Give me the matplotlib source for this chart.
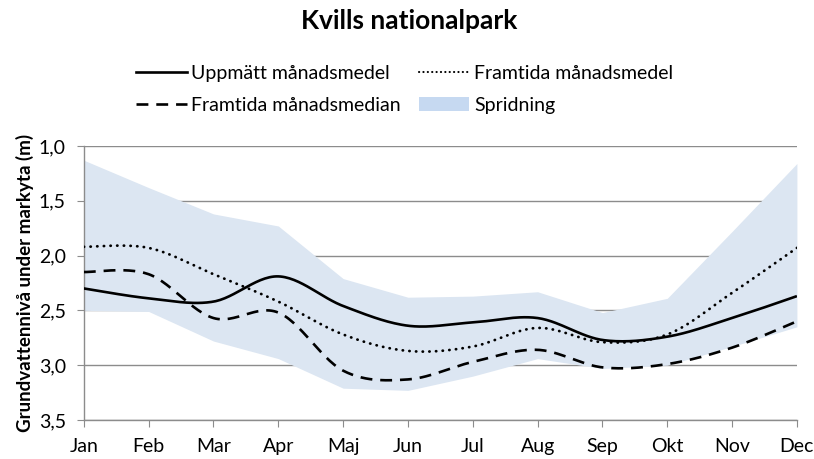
import numpy as np
import matplotlib.pyplot as plt
from matplotlib.patches import Patch
from matplotlib.lines import Line2D

months = ["Jan", "Feb", "Mar", "Apr", "Maj", "Jun", "Jul", "Aug", "Sep", "Okt", "Nov", "Dec"]
uppmatt = [2.30, 2.39, 2.42, 2.19, 2.46, 2.64, 2.61, 2.57, 2.77, 2.74, 2.57, 2.37]
framtida_medel = [1.92, 1.93, 2.17, 2.42, 2.72, 2.87, 2.83, 2.66, 2.79, 2.72, 2.34, 1.93]
framtida_median = [2.15, 2.17, 2.57, 2.52, 3.05, 3.13, 2.97, 2.86, 3.02, 2.99, 2.84, 2.60]
spridning_min = [1.13, 1.38, 1.62, 1.73, 2.21, 2.38, 2.37, 2.33, 2.52, 2.39, 1.78, 1.16]
spridning_max = [2.50, 2.51, 2.78, 2.94, 3.21, 3.23, 3.10, 2.94, 3.03, 3.00, 2.83, 2.65]

plt.rcParams['font.family'] = ['Lato', 'DejaVu Sans']


def smooth(y, n=30):
    # Excel-style smoothed line (Bezier through the points)
    y = np.asarray(y, dtype=float)
    x = np.arange(len(y), dtype=float)
    px = np.concatenate([[x[0]], x, [x[-1]]])
    py = np.concatenate([[y[0]], y, [y[-1]]])
    t = np.linspace(0, 1, n)
    xs, ys = [], []
    for i in range(1, len(px) - 2):
        p0x, p1x, p2x, p3x = px[i - 1], px[i], px[i + 1], px[i + 2]
        p0y, p1y, p2y, p3y = py[i - 1], py[i], py[i + 1], py[i + 2]
        b1x, b1y = p1x + (p2x - p0x) / 6, p1y + (p2y - p0y) / 6
        b2x, b2y = p2x - (p3x - p1x) / 6, p2y - (p3y - p1y) / 6
        xs.append((1-t)**3*p1x + 3*(1-t)**2*t*b1x + 3*(1-t)*t**2*b2x + t**3*p2x)
        ys.append((1-t)**3*p1y + 3*(1-t)**2*t*b1y + 3*(1-t)*t**2*b2y + t**3*p2y)
    return np.concatenate(xs), np.concatenate(ys)


fig = plt.figure(figsize=(8.14, 4.59), dpi=100)
ax = fig.add_axes([0.103, 0.085, 0.876, 0.597])

x = np.arange(len(months))
ax.fill_between(x, spridning_min, spridning_max, color='#dce6f2', linewidth=0, zorder=1)

sx, sy = smooth(uppmatt)
ax.plot(sx, sy, color='black', lw=1.9, zorder=4, solid_capstyle='butt')
sx, sy = smooth(framtida_medel)
ax.plot(sx, sy, color='black', lw=2.0, linestyle=(0, (0.1, 2.3)), dash_capstyle='round', zorder=3)
sx, sy = smooth(framtida_median)
ax.plot(sx, sy, color='black', lw=1.9, linestyle=(0, (4.5, 3.0)), zorder=3)

ax.set_xlim(0, 11)
ax.set_ylim(3.5, 1.0)
ax.set_yticks([1.0, 1.5, 2.0, 2.5, 3.0, 3.5])
ax.set_yticklabels(['1,0', '1,5', '2,0', '2,5', '3,0', '3,5'], fontsize=14)
ax.set_xticks(x)
ax.set_xticklabels(months, fontsize=14)
ax.yaxis.grid(True, color='#8c8c8c', linewidth=1.0, zorder=0)
ax.set_axisbelow(True)
for s in ['top', 'right']:
    ax.spines[s].set_visible(False)
for s in ['left', 'bottom']:
    ax.spines[s].set_color('#8c8c8c')
    ax.spines[s].set_linewidth(1.0)
ax.tick_params(axis='both', colors='#8c8c8c', length=5, labelcolor='black')
ax.tick_params(axis='x', pad=8)
ax.tick_params(axis='y', pad=8)
ax.set_ylabel('Grundvattennivå under markyta (m)', fontsize=13.5, fontweight='bold', labelpad=3)

fig.suptitle('Kvills nationalpark', fontsize=19, fontweight='bold', x=0.503, y=0.98)

handles = [
    Line2D([], [], color='black', lw=1.9),
    Line2D([], [], color='black', lw=1.9, linestyle=(0, (4.5, 3.0))),
    Line2D([], [], color='black', lw=1.5, linestyle=(0, (0.1, 2.0)), dash_capstyle='round'),
    Patch(facecolor='#c6d9f1', edgecolor='none'),
]
labels = ['Uppmätt månadsmedel', 'Framtida månadsmedian', 'Framtida månadsmedel', 'Spridning']
fig.legend(handles, labels, ncol=2, loc='center', bbox_to_anchor=(0.497, 0.805),
           frameon=False, fontsize=14, handlelength=2.6, columnspacing=0.9,
           labelspacing=0.75, handletextpad=0.25)

fig.savefig('out.png', dpi=100)
